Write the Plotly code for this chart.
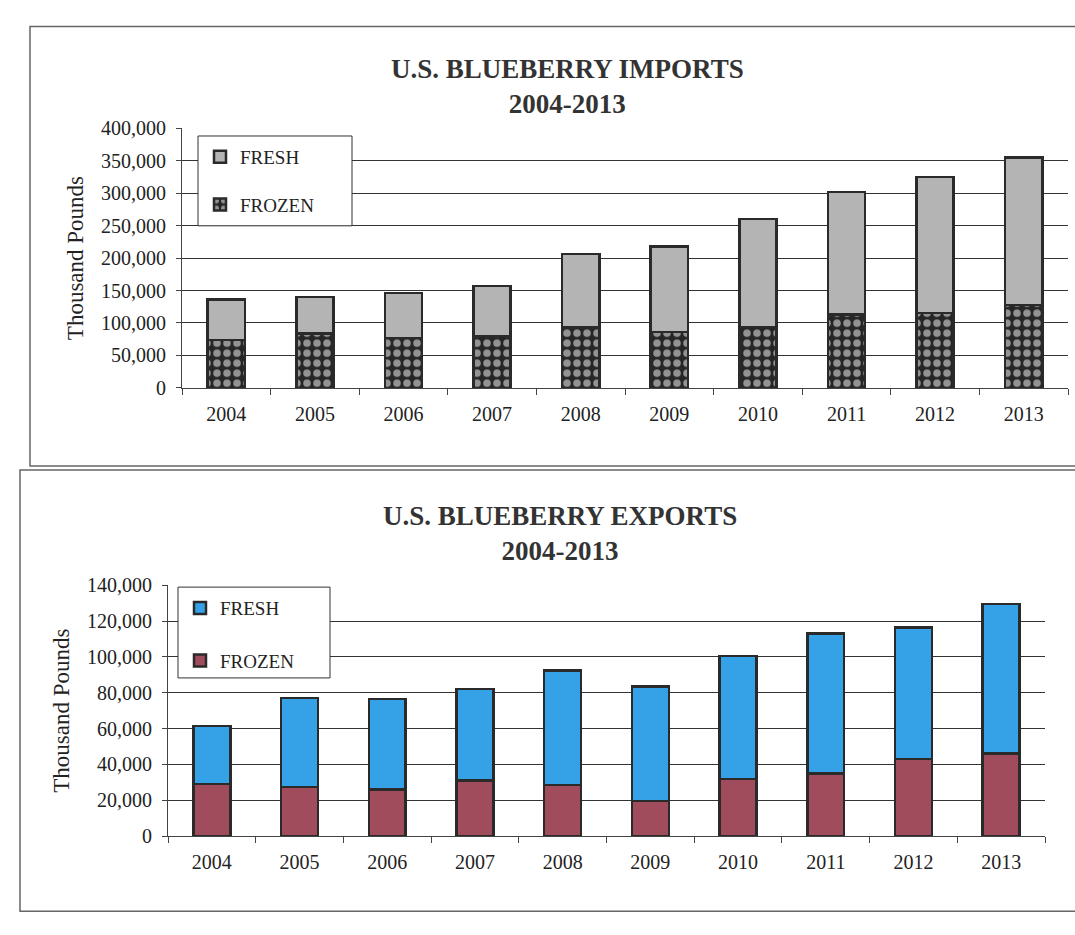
import plotly.graph_objects as go

years = ["2004", "2005", "2006", "2007", "2008", "2009", "2010", "2011", "2012", "2013"]

# Imports (thousand pounds)
imp_frozen = [74000, 84000, 77000, 80000, 93000, 86000, 94000, 113000, 115000, 128000]
imp_total = [136000, 140000, 146000, 157000, 206000, 218000, 260000, 302000, 325000, 355000]
imp_fresh = [t - f for t, f in zip(imp_total, imp_frozen)]

# Exports (thousand pounds)
exp_frozen = [29000, 27500, 26000, 31000, 28500, 19500, 32000, 35000, 43000, 46000]
exp_total = [61500, 77000, 76500, 82000, 92500, 83500, 100500, 113000, 116500, 129500]
exp_fresh = [t - f for t, f in zip(exp_total, exp_frozen)]

W, H = 1075, 935
def px(x): return x / W
def py(y): return 1 - y / H

SERIF = "Liberation Serif, Times New Roman, serif"
EDGE = "#2a2a2a"

fig = go.Figure()

# Imports
fig.add_trace(go.Bar(
    x=years, y=imp_frozen, name="FROZEN", xaxis="x", yaxis="y", legend="legend",
    legendgroup="a", legendrank=2, width=0.42,
    marker=dict(color="#262626", line=dict(color=EDGE, width=2.5),
                pattern=dict(shape=".", bgcolor="#262626", fgcolor="#ffffff", size=10, solidity=0.45)),
))
fig.add_trace(go.Bar(
    x=years, y=imp_fresh, name="FRESH", xaxis="x", yaxis="y", legend="legend",
    legendgroup="b", legendrank=1, width=0.42,
    marker=dict(color="#b4b4b4", line=dict(color=EDGE, width=2.5)),
))

# Exports
fig.add_trace(go.Bar(
    x=years, y=exp_frozen, name="FROZEN", xaxis="x2", yaxis="y2", legend="legend2",
    legendgroup="c", legendrank=2, width=0.42,
    marker=dict(color="#a04c5c", line=dict(color=EDGE, width=2.5)),
))
fig.add_trace(go.Bar(
    x=years, y=exp_fresh, name="FRESH", xaxis="x2", yaxis="y2", legend="legend2",
    legendgroup="d", legendrank=1, width=0.42,
    marker=dict(color="#35a2e8", line=dict(color=EDGE, width=2.5)),
))

tickfont = dict(family=SERIF, size=20, color="#222222")

xcommon = dict(type="category", showgrid=False, showline=True, linecolor="#444444", linewidth=1,
               ticks="outside", tickson="boundaries", ticklen=6, tickcolor="#444444",
               tickfont=tickfont, ticklabelstandoff=8)
ycommon = dict(showline=True, linecolor="#444444", linewidth=1, ticks="outside", ticklen=5,
               tickcolor="#444444", tickformat=",", showgrid=True, gridcolor="#333333",
               gridwidth=1, tickfont=tickfont, zeroline=False, ticklabelstandoff=6)

legend_common = dict(bgcolor="rgba(0,0,0,0)", borderwidth=0,
                     font=dict(family=SERIF, size=19, color="#222222"),
                     traceorder="grouped", itemwidth=30,
                     xanchor="left", yanchor="top")

fig.update_layout(
    width=W, height=H,
    margin=dict(l=0, r=0, t=0, b=0),
    paper_bgcolor="white", plot_bgcolor="white",
    barmode="stack", bargap=0.58,
    showlegend=True,
    xaxis=dict(domain=[px(182), px(1068)], anchor="y", **xcommon),
    yaxis=dict(domain=[py(386), py(120)], anchor="x", range=[0, 400000], dtick=50000,
               title=dict(text="Thousand Pounds", font=dict(family=SERIF, size=23, color="#222222"), standoff=10),
               **ycommon),
    xaxis2=dict(domain=[px(168), px(1045)], anchor="y2", **xcommon),
    yaxis2=dict(domain=[py(845), py(588)], anchor="x2", range=[0, 140000], dtick=20000,
                title=dict(text="Thousand Pounds", font=dict(family=SERIF, size=23, color="#222222"), standoff=10),
                **ycommon),
    legend=dict(x=px(200), y=py(130), tracegroupgap=20, **legend_common),
    legend2=dict(x=px(180), y=py(592), tracegroupgap=25, **legend_common),
    annotations=[
        dict(text="<b>U.S. BLUEBERRY IMPORTS</b><br><b>2004-2013</b>", x=px(567), y=py(42),
             xref="paper", yref="paper", showarrow=False, yanchor="top",
             font=dict(family=SERIF, size=27, color="#333333"), align="center"),
        dict(text="<b>U.S. BLUEBERRY EXPORTS</b><br><b>2004-2013</b>", x=px(560), y=py(500),
             xref="paper", yref="paper", showarrow=False, yanchor="top",
             font=dict(family=SERIF, size=27, color="#333333"), align="center"),
    ],
    shapes=[
        dict(type="rect", xref="paper", yref="paper", x0=px(30), x1=px(1078), y0=py(466), y1=py(16),
             line=dict(color="#666666", width=1.5)),
        dict(type="rect", xref="paper", yref="paper", x0=px(20), x1=px(1078), y0=py(922), y1=py(470),
             line=dict(color="#666666", width=1.5)),
        # legend boxes
        dict(type="rect", xref="paper", yref="paper", x0=px(198), x1=px(352), y0=py(220), y1=py(128),
             line=dict(color="#333333", width=1), fillcolor="white", layer="above"),
        dict(type="rect", xref="paper", yref="paper", x0=px(178), x1=px(330), y0=py(683), y1=py(590),
             line=dict(color="#333333", width=1), fillcolor="white", layer="above"),
    ],
)

fig.write_html(
    "out.html",
    config={"displayModeBar": False},
    post_script=(
        "var d=document.getElementById('{plot_id}');"
        "d.style.position='fixed';d.style.top='0px';d.style.left='0px';"
        "document.body.style.margin='0';document.body.style.overflow='hidden';"
    ),
)
